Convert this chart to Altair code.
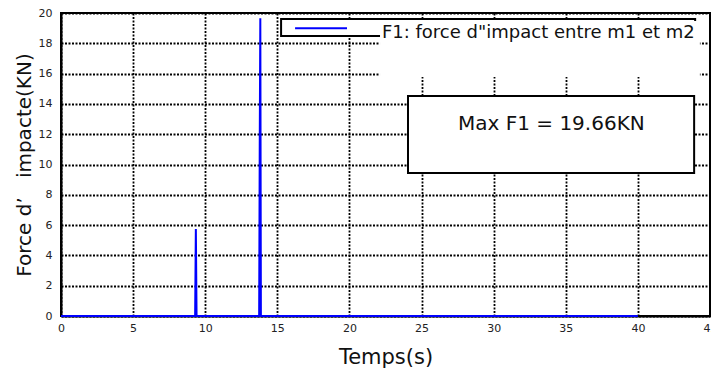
import altair as alt
import pandas as pd

# ---- data ----
time_s = [0.0, 9.30, 9.35, 9.40, 13.74, 13.78, 13.82, 13.86, 40.0]
force_kn = [0.0, 0.0, 5.74, 0.0, 0.0, 11.4, 19.66, 0.0, 0.0]
x_ticks = [0, 5, 10, 15, 20, 25, 30, 35, 40, 45]
y_ticks = [0, 2, 4, 6, 8, 10, 12, 14, 16, 18, 20]
legend_label = 'F1: force d"impact entre m1 et m2'
annotation_label = "Max F1 = 19.66KN"
x_title = "Temps(s)"
y_title = "Force d’\u00a0\u00a0\u00a0impacte(KN)"

# ---- layout (in data units) ----
legend_box = {"t": [15.26], "t2": [43.97], "f": [19.6], "f2": [18.48]}
legend_mask = {"t": [22.12], "t2": [44.3], "f": [19.47], "f2": [15.78]}
legend_sample = {"t": [16.23], "t2": [19.83], "f": [19.0]}
legend_text = {"t": [22.25], "f": [18.68], "label": [legend_label]}
annot_box = {"t": [24.06], "t2": [43.9], "f": [14.52], "f2": [9.44]}
annot_text = {"t": [34.0], "f": [12.7], "label": [annotation_label]}

FONT = "DejaVu Sans"

xscale = alt.Scale(domain=[0, 45], nice=False, zero=False)
yscale = alt.Scale(domain=[0, 20], nice=False, zero=False)

common = dict(grid=True, tickSize=0, labelFontSize=11, labelFont=FONT, labelColor="#222",
              titleFont=FONT, titleFontWeight="normal", titleColor="#111",
              titleBaseline="alphabetic", domainColor="black", domainWidth=2,
              labelFlush=False, gridColor="black", gridDash=[2, 1.5], gridWidth=1.8,
              gridOpacity=1)
xaxis = alt.Axis(values=x_ticks, title=x_title, labelPadding=6, titleFontSize=21,
                 titleY=47, **common)
yaxis = alt.Axis(values=y_ticks, title=y_title, labelPadding=9, titleFontSize=20,
                 titleX=-31, titleY=151.5, titleAngle=-90, titleAlign="center", **common)


def X(field="t"):
    return alt.X(f"{field}:Q", scale=xscale, axis=xaxis)


def Y(field="f"):
    return alt.Y(f"{field}:Q", scale=yscale, axis=yaxis)


line_df = pd.DataFrame({"t": time_s, "f": force_kn})
line = alt.Chart(line_df).mark_line(color="#0000ff", strokeWidth=2, clip=False).encode(
    x=X(), y=Y(), order="t:Q")

lb = alt.Chart(pd.DataFrame(legend_box)).mark_rect(
    fill="white", stroke="black", strokeWidth=2).encode(
    x=X(), x2="t2:Q", y=Y(), y2="f2:Q")
lm = alt.Chart(pd.DataFrame(legend_mask)).mark_rect(fill="white", strokeWidth=0).encode(
    x=X(), x2="t2:Q", y=Y(), y2="f2:Q")
ls = alt.Chart(pd.DataFrame(legend_sample)).mark_rule(color="#0000ff", strokeWidth=2).encode(
    x=X(), x2="t2:Q", y=Y())
lt = alt.Chart(pd.DataFrame(legend_text)).mark_text(
    align="left", baseline="middle", font=FONT, fontSize=18, color="#111").encode(
    x=X(), y=Y(), text="label:N")
ab = alt.Chart(pd.DataFrame(annot_box)).mark_rect(
    fill="white", stroke="black", strokeWidth=2).encode(
    x=X(), x2="t2:Q", y=Y(), y2="f2:Q")
at = alt.Chart(pd.DataFrame(annot_text)).mark_text(
    align="center", baseline="middle", font=FONT, fontSize=20, color="#111").encode(
    x=X(), y=Y(), text="label:N")

chart = alt.layer(line, lb, lm, ls, lt, ab, at).properties(
    width=649, height=303,
    autosize=alt.AutoSizeParams(type="none"),
    padding={"left": 61, "top": 13, "right": 1, "bottom": 55},
    background="white",
).configure_view(stroke="black", strokeWidth=2)

chart.save("out.html", embed_options={"renderer": "svg", "actions": False})
